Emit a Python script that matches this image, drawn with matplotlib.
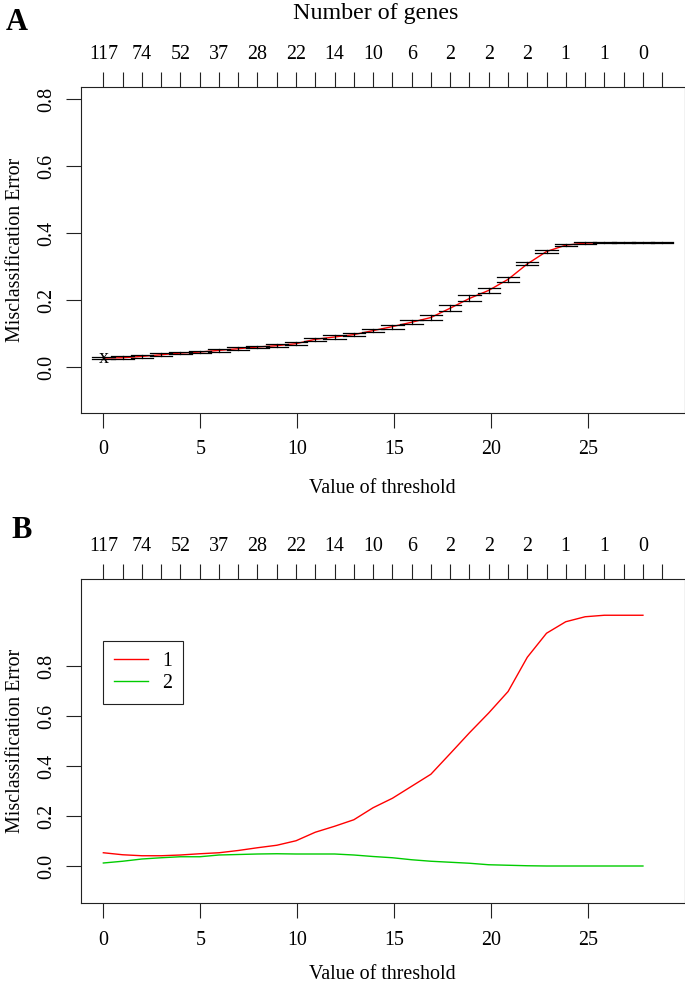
import matplotlib
matplotlib.use("Agg")
import matplotlib.pyplot as plt

plt.rcParams['font.family'] = ['Liberation Serif', 'DejaVu Serif']

# ---------------- data ----------------
thresholds = [0.00, 0.99, 1.99, 2.98, 3.97, 4.97, 5.96, 6.95, 7.94, 8.94,
              9.93, 10.92, 11.92, 12.91, 13.90, 14.90, 15.89, 16.88, 17.88, 18.87,
              19.86, 20.86, 21.85, 22.84, 23.83, 24.83, 25.82, 26.81, 27.81, 28.80]
gene_counts = ['117', '74', '52', '37', '28', '22', '14', '10', '6', '2',
               '2', '2', '1', '1', '0']          # shown at every other threshold
cv_error = [0.027, 0.028, 0.032, 0.037, 0.042, 0.045, 0.050, 0.055, 0.060, 0.064,
            0.070, 0.083, 0.090, 0.097, 0.109, 0.121, 0.134, 0.148, 0.176, 0.205,
            0.229, 0.262, 0.308, 0.345, 0.364, 0.370, 0.371, 0.371, 0.371, 0.371]
cv_se = [0.004, 0.004, 0.004, 0.004, 0.004, 0.004, 0.004, 0.004, 0.004, 0.004,
         0.004, 0.005, 0.005, 0.005, 0.005, 0.006, 0.006, 0.007, 0.009, 0.009,
         0.008, 0.0075, 0.0045, 0.0045, 0.0035, 0.002, 0.001, 0.001, 0.001, 0.001]
class_labels = ['1', '2']
class1_error = [0.053, 0.045, 0.041, 0.041, 0.044, 0.049, 0.053, 0.062, 0.073, 0.083,
                0.101, 0.135, 0.159, 0.185, 0.233, 0.271, 0.319, 0.367, 0.450, 0.533,
                0.612, 0.698, 0.835, 0.931, 0.977, 0.997, 1.003, 1.003, 1.003]
class2_error = [0.012, 0.019, 0.028, 0.033, 0.037, 0.037, 0.044, 0.046, 0.048, 0.049,
                0.048, 0.048, 0.048, 0.044, 0.038, 0.033, 0.025, 0.019, 0.015, 0.011,
                0.005, 0.003, 0.001, 0.000, 0.000, 0.000, 0.000, 0.000, 0.000]
yticks = [0.0, 0.2, 0.4, 0.6, 0.8]

# ---------------- layout ----------------
W, H = 685, 985
fig = plt.figure(figsize=(W / 100, H / 100), dpi=100)

def axes_px(left, top, right, bottom):
    return fig.add_axes([left / W, 1 - bottom / H, (right - left) / W, (bottom - top) / H])

FS = 14.4
LW = 0.8
span = thresholds[-1] - thresholds[0]
xlim = (thresholds[0] - 0.04 * span, thresholds[-1] + 0.04 * span)
top_labels = []
for i in range(len(thresholds)):
    top_labels.append(gene_counts[i // 2] if i % 2 == 0 else '')

def style_axes(ax, ylim):
    ax.set_xlim(*xlim)
    ax.set_ylim(*ylim)
    for s in ax.spines.values():
        s.set_linewidth(LW)
        s.set_color('#222222')
    ax.set_xticks([0, 5, 10, 15, 20, 25])
    ax.set_xticklabels(['0', '5', '10', '15', '20', '25'])
    ax.set_yticks(yticks)
    ax.set_yticklabels(['%.1f' % v for v in yticks], rotation=90, va='center')
    ax.tick_params(axis='x', direction='out', length=10.5, width=LW, color='#222222',
                   labelsize=FS, pad=9.5)
    ax.tick_params(axis='y', direction='out', length=10.5, width=LW, color='#222222',
                   labelsize=FS, pad=7)
    top = ax.twiny()
    top.set_xlim(*xlim)
    top.set_xticks(thresholds)
    top.set_xticklabels(top_labels)
    top.tick_params(axis='x', direction='out', length=10.5, width=LW, color='#222222',
                    labelsize=FS, pad=6)
    for s in top.spines.values():
        s.set_visible(False)
    return top

# ---------------- panel A ----------------
axA = axes_px(81, 87, 684.5, 412.7)
style_axes(axA, (-0.136, 0.836))
axA.plot(thresholds, cv_error, color='red', lw=1.0, zorder=2)
barw = span * 0.02
for x, e, s in zip(thresholds, cv_error, cv_se):
    axA.plot([x, x], [e - s, e + s], color='black', lw=0.9, zorder=3)
    axA.plot([x - barw, x + barw], [e - s, e - s], color='black', lw=0.9, zorder=3)
    axA.plot([x - barw, x + barw], [e + s, e + s], color='black', lw=0.9, zorder=3)
min_err = min(cv_error)
for x, e in zip(thresholds, cv_error):
    if e == min_err:
        axA.text(x, e, 'x', fontsize=FS, ha='center', va='center', zorder=4)
axA.set_xlabel('Value of threshold', fontsize=FS, labelpad=14)
axA.set_ylabel('Misclassification Error', fontsize=FS, labelpad=9)

# ---------------- panel B ----------------
axB = axes_px(81, 579, 684.5, 903)
style_axes(axB, (-0.148, 1.148))
n = len(class1_error)
axB.plot(thresholds[:n], class1_error, color='#ff0000', lw=1.0, label=class_labels[0])
axB.plot(thresholds[:n], class2_error, color='#00cc00', lw=1.0, label=class_labels[1])
leg = axB.legend(loc='upper left', bbox_to_anchor=(0, 0.9), bbox_transform=axB.transData,
                 borderaxespad=0, fancybox=False, framealpha=1, edgecolor='#222222',
                 fontsize=FS, handlelength=1.7, handletextpad=0.7, borderpad=0.55,
                 labelspacing=0.15, markerfirst=True)
leg.get_frame().set_linewidth(LW)
axB.set_xlabel('Value of threshold', fontsize=FS, labelpad=11)
axB.set_ylabel('Misclassification Error', fontsize=FS, labelpad=9)

# ---------------- titles ----------------
fig.text(376 / W, 1 - 13 / H, 'Number of genes', fontsize=FS * 1.2, ha='center', va='center')
fig.text(17 / W, 1 - 23 / H, 'A', fontsize=22, fontweight='bold', ha='center', va='center')
fig.text(22 / W, 1 - 531 / H, 'B', fontsize=22, fontweight='bold', ha='center', va='center')

fig.savefig('out.png', dpi=100)
